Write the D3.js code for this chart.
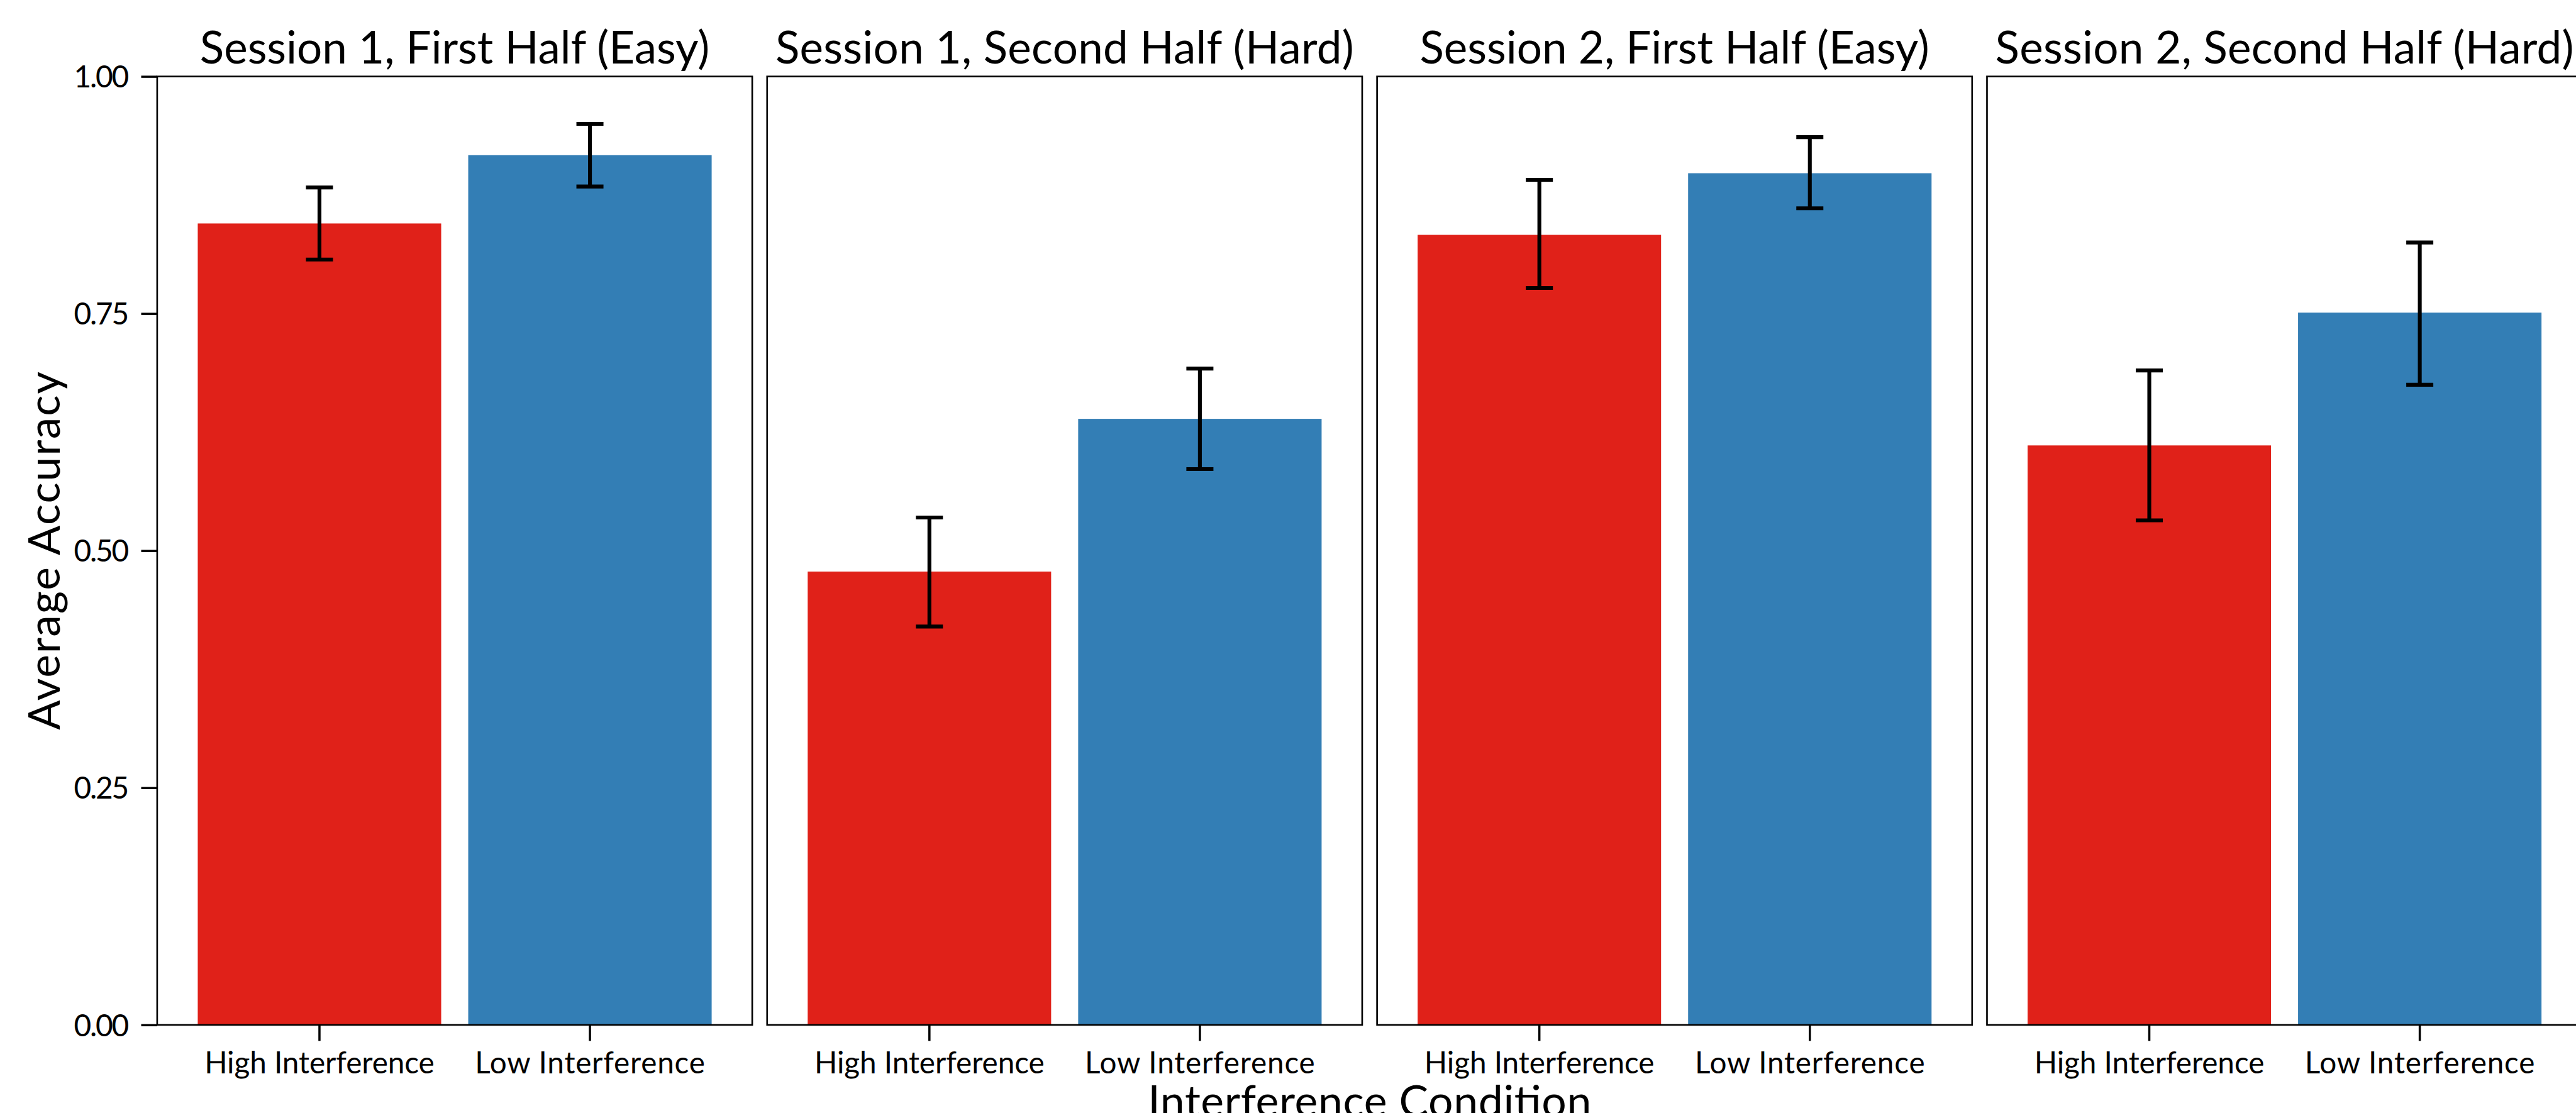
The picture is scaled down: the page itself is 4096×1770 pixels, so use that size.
<!DOCTYPE html>
<html>
<head>
<meta charset="utf-8">
<script src="https://cdn.jsdelivr.net/npm/d3@7"></script>
<style>
  html, body { margin: 0; padding: 0; background: #ffffff; overflow: hidden; }
  svg { display: block; }
</style>
</head>
<body>
<svg id="chart" width="4096" height="1770"></svg>
<script>
// ---- data ----
const panels = [
  "Session 1, First Half (Easy)",
  "Session 1, Second Half (Hard)",
  "Session 2, First Half (Easy)",
  "Session 2, Second Half (Hard)"
];
const conditions = ["High Interference", "Low Interference"];

// mean accuracy and error-bar limits, one entry per panel
const highMean = [0.845, 0.478, 0.833, 0.611];
const highLow  = [0.807, 0.420, 0.777, 0.532];
const highHigh = [0.883, 0.535, 0.891, 0.690];

const lowMean  = [0.917, 0.639, 0.898, 0.751];
const lowLow   = [0.884, 0.586, 0.861, 0.675];
const lowHigh  = [0.950, 0.692, 0.936, 0.825];

const yTicks = [0, 0.25, 0.5, 0.75, 1];
const yTitle = "Average Accuracy";
const xTitle = "Interference Condition";
const barColors = ["#e02119", "#337eb5"];

// ---- layout (drawn in a 4671-wide frame, then scaled to the window) ----
const S = 4096 / 4671;
const FONT = "Lato, 'Noto Sans', sans-serif";
const panelLeft = 285, panelTop = 138.7, panelW = 1079, panelH = 1720, panelGap = 27;
const tickLen = 29;

const rows = panels.map((p, i) => ({
  panel: p,
  bars: [
    { cond: conditions[0], mean: highMean[i], lo: highLow[i], hi: highHigh[i], color: barColors[0] },
    { cond: conditions[1], mean: lowMean[i],  lo: lowLow[i],  hi: lowHigh[i],  color: barColors[1] }
  ]
}));

const svg = d3.select("#chart");
const root = svg.append("g").attr("transform", `scale(${S})`);

const y = d3.scaleLinear().domain([0, 1]).range([panelTop + panelH, panelTop]);
const x = d3.scaleBand().domain(conditions).range([0, panelW]).paddingInner(0.1).paddingOuter(0.15);
const capHalf = x.step() * 0.05;

// stretch a text element so that its width equals a given extent
function fitWidth(sel, width) {
  sel.each(function () {
    const w = this.getComputedTextLength();
    if (w > 0) d3.select(this).attr("textLength", width).attr("lengthAdjust", "spacing");
  });
}

const panelG = root.selectAll("g.panel")
  .data(rows)
  .join("g")
  .attr("class", "panel")
  .attr("transform", (d, i) => `translate(${panelLeft + i * (panelW + panelGap)},0)`);

// bars
panelG.selectAll("rect.bar")
  .data(d => d.bars)
  .join("rect")
  .attr("class", "bar")
  .attr("x", d => x(d.cond))
  .attr("width", x.bandwidth())
  .attr("y", d => y(d.mean))
  .attr("height", d => y(0) - y(d.mean))
  .attr("fill", d => d.color);

// error bars
const eb = panelG.selectAll("g.err")
  .data(d => d.bars)
  .join("g")
  .attr("class", "err")
  .attr("stroke", "#000")
  .attr("stroke-width", 7)
  .attr("fill", "none");
eb.append("line")
  .attr("x1", d => x(d.cond) + x.bandwidth() / 2)
  .attr("x2", d => x(d.cond) + x.bandwidth() / 2)
  .attr("y1", d => y(d.lo))
  .attr("y2", d => y(d.hi));
eb.append("line")
  .attr("x1", d => x(d.cond) + x.bandwidth() / 2 - capHalf)
  .attr("x2", d => x(d.cond) + x.bandwidth() / 2 + capHalf)
  .attr("y1", d => y(d.hi))
  .attr("y2", d => y(d.hi));
eb.append("line")
  .attr("x1", d => x(d.cond) + x.bandwidth() / 2 - capHalf)
  .attr("x2", d => x(d.cond) + x.bandwidth() / 2 + capHalf)
  .attr("y1", d => y(d.lo))
  .attr("y2", d => y(d.lo));

// panel frame
panelG.append("rect")
  .attr("x", 0)
  .attr("y", panelTop)
  .attr("width", panelW)
  .attr("height", panelH)
  .attr("fill", "none")
  .attr("stroke", "#000")
  .attr("stroke-width", 3);

// strip titles
panelG.append("text")
  .attr("x", panelW / 2)
  .attr("y", 115)
  .attr("text-anchor", "middle")
  .attr("font-family", FONT)
  .attr("font-size", 81)
  .attr("fill", "#000")
  .text(d => d.panel)
  .call(sel => sel.each(function (d) {
    const long = d.panel.includes("Second");
    fitWidth(d3.select(this), long ? 1049 : 924);
  }));

// x axis per panel
panelG.append("g")
  .attr("transform", `translate(0,${panelTop + panelH})`)
  .each(function () {
    const ax = d3.select(this).call(d3.axisBottom(x).tickSize(tickLen).tickSizeOuter(0));
    ax.select(".domain").remove();
    ax.selectAll(".tick line").attr("stroke", "#000").attr("stroke-width", 4);
    ax.selectAll(".tick text")
      .attr("y", 88.5)
      .attr("dy", null)
      .attr("font-family", FONT)
      .attr("font-size", 54.4)
      .attr("fill", "#000")
      .call(sel => fitWidth(sel, 417));
  });

// y axis on the first panel
const yAxis = root.append("g")
  .attr("transform", `translate(${panelLeft},0)`)
  .call(d3.axisLeft(y).tickValues(yTicks).tickFormat(d3.format(".2f")).tickSize(tickLen).tickPadding(22).tickSizeOuter(0));
yAxis.select(".domain").remove();
yAxis.selectAll(".tick line").attr("stroke", "#000").attr("stroke-width", 4);
yAxis.selectAll(".tick text")
  .attr("dy", "0.36em")
  .attr("font-family", FONT)
  .attr("font-size", 54.4)
  .attr("fill", "#000")
  .call(sel => fitWidth(sel, 100));

// axis titles, centred on the panel area
root.append("text")
  .attr("transform", `translate(108,${panelTop + panelH / 2}) rotate(-90)`)
  .attr("text-anchor", "middle")
  .attr("font-family", FONT)
  .attr("font-size", 79.5)
  .attr("fill", "#000")
  .text(yTitle)
  .call(sel => fitWidth(sel, 650));

root.append("text")
  .attr("x", panelLeft + (4 * panelW + 3 * panelGap) / 2)
  .attr("y", 2025)
  .attr("text-anchor", "middle")
  .attr("font-family", FONT)
  .attr("font-size", 79.5)
  .attr("fill", "#000")
  .text(xTitle)
  .call(sel => fitWidth(sel, 804));
</script>
</body>
</html>
